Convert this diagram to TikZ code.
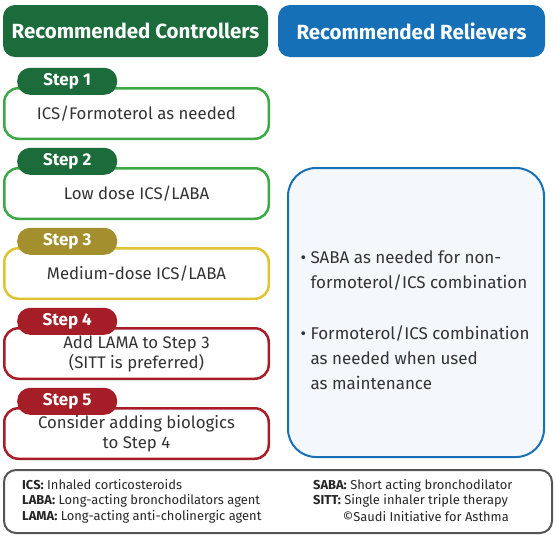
\documentclass[tikz,border=0pt]{standalone}
\usepackage{fontspec}
\setmainfont{Fira Sans}
\usetikzlibrary{positioning}
\definecolor{ctrlgreen}{HTML}{1B6B3B}
\definecolor{lightgreen}{HTML}{3DA846}
\definecolor{tagolive}{HTML}{A38F2E}
\definecolor{lineyellow}{HTML}{E0C232}
\definecolor{stepred}{HTML}{A51E27}
\definecolor{relblue}{HTML}{1570B8}
\definecolor{relfill}{HTML}{F4F8FC}
\definecolor{txtgray}{HTML}{333333}
\definecolor{leggray}{HTML}{555555}
\tikzset{header/.style={fill=#1,rounded corners=12pt,minimum height=52pt,text=white,font=\fontsize{20.5}{24}\selectfont\bfseries},stepbox/.style={draw=#1,line width=2.5pt,fill=white,rounded corners=14pt,minimum width=264.5pt,minimum height=50.5pt,align=center,text=txtgray,font=\fontsize{16.8}{20}\selectfont},steptag/.style={fill=#1,rounded corners=13pt,minimum width=100pt,minimum height=27pt,inner sep=0pt,text=white,font=\fontsize{17}{20}\selectfont\bfseries,anchor=south west},reltext/.style={align=left,anchor=west,text=txtgray,font=\fontsize{17}{25}\selectfont},legtext/.style={align=left,inner sep=0pt,text=black!85,font=\fontsize{12.9}{15.5}\selectfont}}

\begin{document}
\begin{tikzpicture}[x=1pt,y=-1pt,node distance=27pt]
\useasboundingbox (0,0) rectangle (556,541);
\node[header=ctrlgreen,minimum width=265pt](ctrl) at (135.5,31){Recommended Controllers};
\node[header=relblue,minimum width=267pt](reliev) at (411.5,31){Recommended Relievers};
\node[stepbox=lightgreen](s1) at (136.5,113.5){ICS/Formoterol as needed};
\node[stepbox=lightgreen,below=of s1](s2){Low dose ICS/LABA};
\node[stepbox=lineyellow,below=of s2](s3){Medium-dose ICS/LABA};
\node[stepbox=stepred,below=of s3](s4){Add LAMA to Step 3\\(SITT is preferred)};
\node[stepbox=stepred,below=of s4](s5){Consider adding biologics\\to Step 4};
\node[steptag=ctrlgreen](t1) at ([shift={(14pt,-8pt)}]s1.north west){Step 1};
\node[steptag=ctrlgreen](t2) at ([shift={(14pt,-8pt)}]s2.north west){Step 2};
\node[steptag=tagolive](t3) at ([shift={(14pt,-8pt)}]s3.north west){Step 3};
\node[steptag=stepred](t4) at ([shift={(14pt,-8pt)}]s4.north west){Step 4};
\node[steptag=stepred](t5) at ([shift={(14pt,-8pt)}]s5.north west){Step 5};
\node[draw=relblue,line width=2pt,fill=relfill,rounded corners=28pt,minimum width=256pt,minimum height=289pt](relbox) at (416,312.5){};
\node[reltext](rel1) at (297,270.5){• SABA as needed for non-\\\phantom{• }formoterol/ICS combination};
\node[reltext](rel2) at (297,358){• Formoterol/ICS combination\\\phantom{• }as needed when used\\\phantom{• }as maintenance};
\node[draw=leggray,line width=2pt,rounded corners=12pt,minimum width=548pt,minimum height=63pt](legend) at (278,501.5){};
\node[legtext,anchor=north west](legleft) at (22,479){\textbf{ICS:} Inhaled corticosteroids\\\textbf{LABA:} Long-acting bronchodilators agent\\\textbf{LAMA:} Long-acting anti-cholinergic agent};
\node[legtext,anchor=north west](legright) at (313,479){\textbf{SABA:} Short acting bronchodilator\\\textbf{SITT:} Single inhaler triple therapy};
\node[legtext,anchor=east](copy) at (509,517){©Saudi Initiative for Asthma};
\end{tikzpicture}
\end{document}
